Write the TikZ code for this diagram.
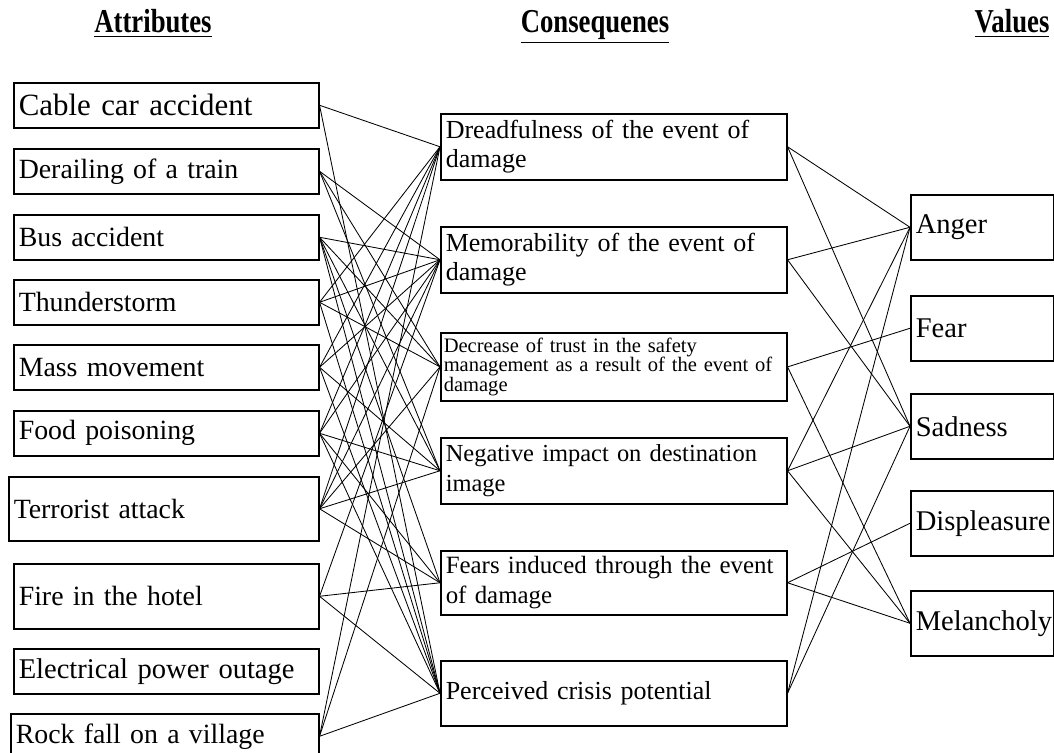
\documentclass[tikz,border=0pt]{standalone}
\usepackage{fontspec}
\setmainfont{Liberation Serif}
\newdimen\pxl \pxl=0.025cm
\tikzset{
    every node/.style={align=left,},
    attr/.style={draw,rectangle,anchor=north west,line width=1.1pt,inner sep=5\pxl,
        text width=295\pxl,minimum height=45\pxl,font=\fontsize{19.8}{24}\selectfont},
    cons/.style={draw,rectangle,anchor=north west,line width=1.1pt,inner sep=5\pxl,
        text width=336\pxl,minimum height=66\pxl,font=\fontsize{18.5}{21}\selectfont},
    val/.style={draw,rectangle,anchor=north west,line width=1.1pt,inner sep=5\pxl,
        text width=133\pxl,minimum height=65\pxl,font=\fontsize{20.3}{24}\selectfont},
    head/.style={anchor=base,font=\fontsize{19}{22}\selectfont\bfseries},
    link/.style={line width=0.6pt},
}

\begin{document}
\begin{tikzpicture}[x=0.025cm,y=-0.025cm]
    \useasboundingbox (0,0) rectangle (1054,753);

    \node[head] (h_attr) at (153,33) {\scalebox{1}[1.25]{\underline{Attributes}}};
    \node[head] (h_cons) at (595,33) {\scalebox{1}[1.25]{\underline{Consequenes}}};
    \node[head] (h_val) at (1012,33) {\scalebox{1}[1.25]{\underline{Values}}};

    \node[attr,font=\fontsize{22}{24}\selectfont] (a1) at (13,82) {Cable car accident};
    \node[attr] (a2) at (13,148) {Derailing of a train};
    \node[attr] (a3) at (13,214) {Bus accident};
    \node[attr] (a4) at (13,279) {Thunderstorm};
    \node[attr] (a5) at (13,344) {Mass movement};
    \node[attr] (a6) at (13,410) {Food poisoning};
    \node[attr,text width=300\pxl,minimum height=64\pxl] (a7) at (8,476) {Terrorist attack};
    \node[attr,minimum height=65\pxl] (a8) at (13,563) {Fire in the hotel};
    \node[attr,font=\fontsize{20.3}{24}\selectfont] (a9) at (13,648) {Electrical power outage};
    \node[attr,text width=298\pxl] (a10) at (10,713) {Rock fall on a village};

    \node[cons] (c1) at (440,113) {Dreadfulness of the event of\\damage};
    \node[cons] (c2) at (440,226) {Memorability of the event of\\damage};
    \node[cons,inner xsep=3\pxl,text width=340\pxl,font=\fontsize{14.6}{14}\selectfont] (c3) at (440,332) {Decrease of trust in the safety\\management as a result of the event of\\damage};
    \node[cons,font=\fontsize{17.4}{21}\selectfont] (c4) at (440,437) {Negative impact on destination\\image};
    \node[cons,minimum height=64\pxl,font=\fontsize{17.7}{21}\selectfont] (c5) at (440,550) {Fears induced through the event\\of damage};
    \node[cons,minimum height=65\pxl] (c6) at (440,660) {Perceived crisis potential};

    \node[val] (v1) at (910,194) {Anger};
    \node[val] (v2) at (910,295) {Fear};
    \node[val] (v3) at (910,393) {Sadness};
    \node[val] (v4) at (910,490) {Displeasure};
    \node[val] (v5) at (910,590) {Melancholy};

    % attributes -> consequences
    \draw[link] (a1.east) -- (c1.west);
    \draw[link] (a1.east) -- (c6.west);
    \draw[link] (a2.east) -- (c2.west);
    \draw[link] (a2.east) -- (c3.west);
    \draw[link] (a2.east) -- (c4.west);
    \draw[link] (a3.east) -- (c2.west);
    \draw[link] (a3.east) -- (c3.west);
    \draw[link] (a3.east) -- (c4.west);
    \draw[link] (a3.east) -- (c5.west);
    \draw[link] (a3.east) -- (c6.west);
    \draw[link] (a4.east) -- (c1.west);
    \draw[link] (a4.east) -- (c2.west);
    \draw[link] (a4.east) -- (c3.west);
    \draw[link] (a4.east) -- (c6.west);
    \draw[link] (a5.east) -- (c1.west);
    \draw[link] (a5.east) -- (c2.west);
    \draw[link] (a5.east) -- (c4.west);
    \draw[link] (a5.east) -- (c6.west);
    \draw[link] (a6.east) -- (c1.west);
    \draw[link] (a6.east) -- (c2.west);
    \draw[link] (a6.east) -- (c4.west);
    \draw[link] (a6.east) -- (c5.west);
    \draw[link] (a6.east) -- (c6.west);
    \draw[link] (a7.east) -- (c1.west);
    \draw[link] (a7.east) -- (c2.west);
    \draw[link] (a7.east) -- (c3.west);
    \draw[link] (a7.east) -- (c4.west);
    \draw[link] (a7.east) -- (c5.west);
    \draw[link] (a8.east) -- (c2.west);
    \draw[link] (a8.east) -- (c5.west);
    \draw[link] (a8.east) -- (c6.west);
    \draw[link] (a10.east) -- (c1.west);
    \draw[link] (a10.east) -- (c3.west);
    \draw[link] (a10.east) -- (c6.west);

    % consequences -> values
    \draw[link] (c1.east) -- (v1.west);
    \draw[link] (c1.east) -- (v3.west);
    \draw[link] (c2.east) -- (v1.west);
    \draw[link] (c2.east) -- (v3.west);
    \draw[link] (c3.east) -- (v2.west);
    \draw[link] (c3.east) -- (v5.west);
    \draw[link] (c4.east) -- (v1.west);
    \draw[link] (c4.east) -- (v3.west);
    \draw[link] (c4.east) -- (v5.west);
    \draw[link] (c5.east) -- (v4.west);
    \draw[link] (c5.east) -- (v5.west);
    \draw[link] (c6.east) -- (v1.west);
    \draw[link] (c6.east) -- (v3.west);
\end{tikzpicture}
\end{document}
